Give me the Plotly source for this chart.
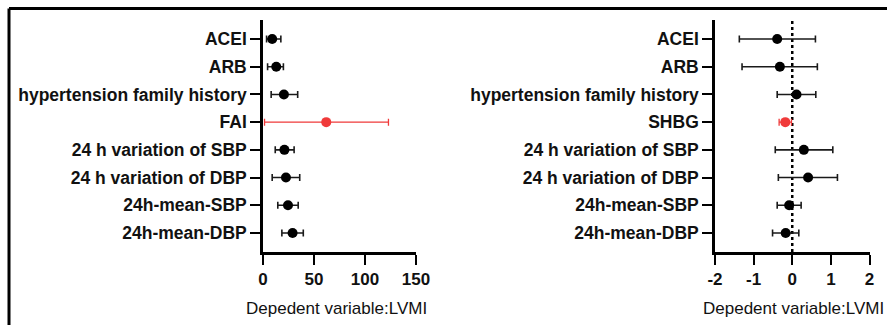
import plotly.graph_objects as go

# ---------------- data ----------------
labels_left = ["ACEI", "ARB", "hypertension family history", "FAI",
               "24 h variation of SBP", "24 h variation of DBP",
               "24h-mean-SBP", "24h-mean-DBP"]
est_left = [9, 13, 20.5, 62, 21, 22.5, 24.5, 29]
lo_left = [3.5, 4.5, 8, 1.5, 12, 9, 14.5, 18.5]
hi_left = [17.5, 20, 34, 123, 30.5, 36, 34.5, 39.5]
highlight_left = "FAI"

labels_right = ["ACEI", "ARB", "hypertension family history", "SHBG",
                "24 h variation of SBP", "24 h variation of DBP",
                "24h-mean-SBP", "24h-mean-DBP"]
est_right = [-0.39, -0.32, 0.11, -0.18, 0.30, 0.41, -0.08, -0.17]
lo_right = [-1.37, -1.30, -0.39, -0.34, -0.44, -0.36, -0.39, -0.51]
hi_right = [0.60, 0.65, 0.61, -0.02, 1.05, 1.17, 0.23, 0.17]
highlight_right = "SHBG"

x_ticks_left = [0, 50, 100, 150]
x_ticks_right = [-2, -1, 0, 1, 2]
x_ticktext_right = ["-2", "-1", "0", "1", "2"]
xlabel = "Depedent variable:LVMI"

W, H = 887, 325
BLACK = "#000000"
RED = "#f03a3a"
FONT = "Liberation Sans, Arial, sans-serif"

fig = go.Figure()


def add_panel(labels, est, lo, hi, hl, xa, ya):
    for is_red in (False, True):
        xs, ys, ep, em = [], [], [], []
        for lab, e, l, h in zip(labels, est, lo, hi):
            if (lab == hl) != is_red:
                continue
            xs.append(e)
            ys.append(lab)
            ep.append(h - e)
            em.append(e - l)
        col = RED if is_red else BLACK
        fig.add_trace(go.Scatter(
            x=xs, y=ys, mode="markers", xaxis=xa, yaxis=ya,
            marker=dict(color=col, size=10),
            error_x=dict(type="data", array=ep, arrayminus=em, symmetric=False,
                         color=col if is_red else "#1a1a1a",
                         thickness=1.3 if is_red else 1.6, width=3.5),
            showlegend=False, hoverinfo="skip"))


add_panel(labels_left, est_left, lo_left, hi_left, highlight_left, "x", "y")
add_panel(labels_right, est_right, lo_right, hi_right, highlight_right, "x2", "y2")

# pixel geometry -> paper fractions (margins are zero)
y_top_px, y_bot_px = 20, 252
ydom = [1 - y_bot_px / H, 1 - y_top_px / H]
row_first, row_last = 39, 233
step = (row_last - row_first) / 7
yr = [7 + (y_bot_px - row_last) / step, -(row_first - y_top_px) / step]

axis_common = dict(showgrid=False, zeroline=False, showline=True, linecolor=BLACK,
                   linewidth=2.5, ticks="outside", tickcolor=BLACK, ticklen=10,
                   tickwidth=2, automargin=False)
yfont = dict(family=FONT, size=17.5, color="#111111", weight="bold")
xfont = dict(family=FONT, size=17, color="#111111", weight="bold")

fig.update_layout(
    width=W, height=H, margin=dict(l=0, r=0, t=0, b=0),
    paper_bgcolor="white", plot_bgcolor="white",
    xaxis=dict(domain=[263 / W, 416 / W], range=[0, 150], tickvals=x_ticks_left,
               anchor="y", tickfont=xfont, ticklabelstandoff=0, **axis_common),
    yaxis=dict(domain=ydom, range=yr, type="category", categoryorder="array",
               categoryarray=labels_left, anchor="x", tickfont=yfont, **axis_common),
    xaxis2=dict(domain=[715 / W, 869.5 / W], range=[-2, 2], tickvals=x_ticks_right,
                ticktext=x_ticktext_right, anchor="y2", tickfont=xfont,
                ticklabelstandoff=0, **axis_common),
    yaxis2=dict(domain=ydom, range=yr, type="category", categoryorder="array",
                categoryarray=labels_right, anchor="x2", tickfont=yfont, **axis_common),
)

# dotted reference line at 0 on right panel
fig.add_shape(type="line", xref="x2", yref="y2 domain", x0=0, x1=0, y0=0, y1=1,
              line=dict(color=BLACK, width=2.5, dash="dot"), layer="below")

# outer frame (top + left)
fig.add_shape(type="line", xref="paper", yref="paper", x0=9 / W, x1=1,
              y0=1 - 8.5 / H, y1=1 - 8.5 / H, line=dict(color=BLACK, width=3))
fig.add_shape(type="line", xref="paper", yref="paper", x0=9 / W, x1=9 / W,
              y0=0, y1=1 - 8.5 / H, line=dict(color=BLACK, width=3))

for xr in (429 / W, 886 / W):
    fig.add_annotation(text=xlabel, xref="paper", yref="paper", x=xr, y=1 - 308 / H,
                       xanchor="right", yanchor="middle", showarrow=False,
                       font=dict(family=FONT, size=17, color="#111111"))

fig.write_html("out.html", config={"displayModeBar": False},
               post_script="document.body.style.margin='0';"
               "document.body.style.overflow='hidden';")
